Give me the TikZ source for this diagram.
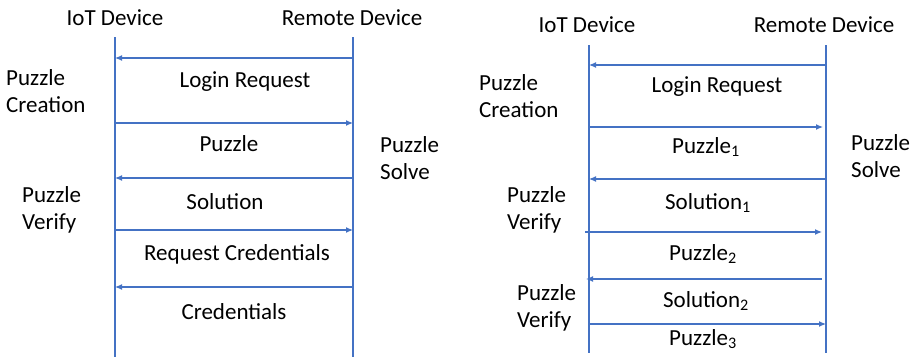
\documentclass[tikz,border=0pt]{standalone}
\usepackage{fontspec}
\setmainfont{Carlito}
\usetikzlibrary{arrows.meta}
\definecolor{lineblue}{RGB}{68,114,196}
\begin{document}
\begin{tikzpicture}[x=1pt, y=-1pt,
        life/.style={draw=lineblue, line width=1.2pt},
        msg/.style={life, -{Latex[length=7pt,width=6pt]}},
        txt/.style={inner sep=0pt, anchor=base, font=\fontsize{23}{27}\selectfont},
        side/.style={txt, align=left, anchor=base west}]
    \useasboundingbox (0,0) rectangle (914,359);

    % plain exchange
    \node[txt] (iot) at (115,25) {IoT Device};
    \node[txt] (rem) at (352,25) {Remote Device};
    \coordinate (iotT) at (115,37);  \coordinate (iotB) at (115,357);
    \coordinate (remT) at (353,37);  \coordinate (remB) at (353,357);
    \draw[life] (iotT) -- (iotB);
    \draw[life] (remT) -- (remB);
    \foreach \n/\y in {1/58, 2/123, 3/178, 4/230, 5/287} {
        \coordinate (i\n) at (115,\y);
        \coordinate (r\n) at (353,\y);
    }
    \draw[msg] (r1) -- (i1);
    \draw[msg] (i2) -- (r2);
    \draw[msg] (r3) -- (i3);
    \draw[msg] (i4) -- (r4);
    \draw[msg] (r5) -- (i5);
    \node[txt] (login) at (245,87) {Login Request};
    \node[txt] (puz) at (229,151) {Puzzle};
    \node[txt] (sol) at (225,209) {Solution};
    \node[txt] (reqc) at (237,260) {Request Credentials};
    \node[txt] (cred) at (234,319) {Credentials};
    \node[side] (create) at (6,112) {Puzzle\\Creation};
    \node[side] (solve) at (380,179) {Puzzle\\Solve};
    \node[side] (verify) at (22,229) {Puzzle\\Verify};

    % repeated puzzles
    \node[txt] (iotR) at (587,32) {IoT Device};
    \node[txt] (remR) at (824,32) {Remote Device};
    \coordinate (iotRT) at (589,45);  \coordinate (iotRB) at (589,353);
    \coordinate (remRT) at (826,45);  \coordinate (remRB) at (826,353);
    \draw[life] (iotRT) -- (iotRB);
    \draw[life] (remRT) -- (remRB);
    \coordinate (a1) at (826,65);   \coordinate (b1) at (589,65);
    \coordinate (a2) at (588,127);  \coordinate (b2) at (823,127);
    \coordinate (a3) at (826,179);  \coordinate (b3) at (589,179);
    \coordinate (a4) at (585,232);  \coordinate (b4) at (822,232);
    \coordinate (a5) at (822,279);  \coordinate (b5) at (586,279);
    \coordinate (a6) at (590,324);  \coordinate (b6) at (826,324);
    \foreach \n in {1,...,6}
        \draw[msg] (a\n) -- (b\n);
    \node[txt] (loginR) at (717,92) {Login Request};
    \node[txt] (puz1) at (706,153) {Puzzle\textsubscript{1}};
    \node[txt] (sol1) at (708,209) {Solution\textsubscript{1}};
    \node[txt] (puz2) at (703,260) {Puzzle\textsubscript{2}};
    \node[txt] (sol2) at (706,307) {Solution\textsubscript{2}};
    \node[txt] (puz3) at (703,345) {Puzzle\textsubscript{3}};
    \node[side] (createR) at (479,117) {Puzzle\\Creation};
    \node[side] (solveR) at (851,177) {Puzzle\\Solve};
    \node[side] (verifyR) at (507,229) {Puzzle\\Verify};
    \node[side] (verifyR2) at (517,327) {Puzzle\\Verify};
\end{tikzpicture}
\end{document}
